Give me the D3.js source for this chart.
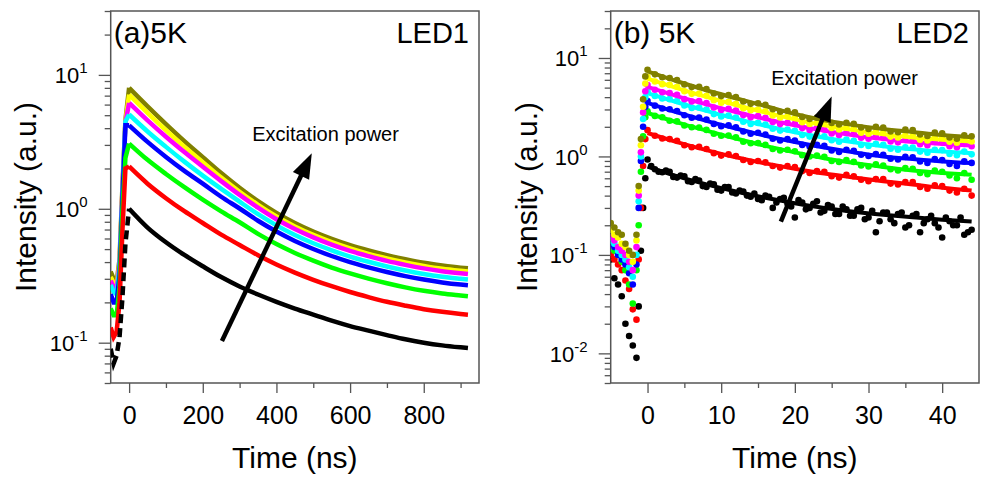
<!DOCTYPE html>
<html>
<head>
<meta charset="utf-8">
<script src="https://cdn.jsdelivr.net/npm/d3@7"></script>
<style>
body { margin: 0; background: #fff; }
svg text { font-family: "Liberation Sans", Arial, sans-serif; fill: #000; }
</style>
</head>
<body>
<svg id="chart" width="982" height="479"></svg>
<script>
// Series colours, lowest to highest excitation power
var seriesColors = ["#000000", "#ff0000", "#00ff00", "#0000ff", "#00ffff", "#ff00ff", "#ffff00", "#808000"];

// ---------- panel (a) LED1 ----------
var riseTimeA = [-50, -42, -34, -26, -18, -10];
var led1RiseBlack   = [0.09, 0.07, 0.08, 0.11, 0.22, 0.55];
var led1RiseRed     = [0.13, 0.11, 0.12, 0.20, 0.70, 2.0];
var led1RiseGreen   = [0.18, 0.16, 0.16, 0.26, 1.0, 2.4];
var led1RiseBlue    = [0.23, 0.20, 0.20, 0.32, 1.2, 4.2];
var led1RiseCyan    = [0.27, 0.24, 0.23, 0.36, 1.3, 4.5];
var led1RiseMagenta = [0.29, 0.26, 0.25, 0.38, 1.4, 4.4];
var led1RiseYellow  = [0.31, 0.28, 0.26, 0.40, 1.4, 4.5];
var led1RiseOlive   = [0.34, 0.30, 0.28, 0.42, 1.5, 4.6];

var timeA = [0, 50, 100, 150, 200, 250, 300, 350, 400, 450, 500, 550, 600, 650, 700, 750, 800, 850, 900, 920];
var led1Black   = [1.0, 0.724, 0.562, 0.452, 0.372, 0.309, 0.263, 0.229, 0.202, 0.180, 0.162, 0.146, 0.133, 0.123, 0.114, 0.106, 0.100, 0.0955, 0.0923, 0.0912];
var led1Red     = [2.07, 1.54, 1.20, 0.959, 0.783, 0.641, 0.537, 0.45, 0.384, 0.334, 0.295, 0.264, 0.239, 0.219, 0.202, 0.189, 0.178, 0.17, 0.164, 0.162];
var led1Green   = [3.07, 2.32, 1.82, 1.45, 1.17, 0.957, 0.793, 0.65, 0.545, 0.468, 0.41, 0.364, 0.329, 0.301, 0.278, 0.259, 0.244, 0.233, 0.225, 0.222];
var led1Blue    = [4.2, 3.16, 2.44, 1.92, 1.54, 1.23, 1.005, 0.814, 0.676, 0.575, 0.501, 0.444, 0.399, 0.365, 0.337, 0.314, 0.296, 0.282, 0.272, 0.269];
var led1Cyan    = [5.06, 3.78, 2.90, 2.25, 1.77, 1.41, 1.13, 0.911, 0.752, 0.637, 0.553, 0.49, 0.44, 0.402, 0.371, 0.346, 0.326, 0.311, 0.30, 0.296];
var led1Magenta = [6.17, 4.57, 3.45, 2.65, 2.06, 1.61, 1.27, 1.02, 0.836, 0.707, 0.612, 0.54, 0.485, 0.443, 0.408, 0.381, 0.359, 0.342, 0.33, 0.326];
var led1Yellow  = [7.12, 5.21, 3.86, 2.91, 2.23, 1.71, 1.34, 1.07, 0.875, 0.738, 0.638, 0.563, 0.506, 0.461, 0.426, 0.397, 0.374, 0.356, 0.344, 0.34];
var led1Olive   = [8.0, 5.82, 4.29, 3.20, 2.43, 1.85, 1.435, 1.14, 0.931, 0.783, 0.676, 0.596, 0.535, 0.488, 0.45, 0.42, 0.395, 0.377, 0.363, 0.359];

// ---------- panel (b) LED2 ----------
var riseTimeB = [-5, -4.5, -4, -3.5, -3, -2.5, -2, -1.5, -1.2, -0.9, -0.6, -0.3];
var led2RiseBlack   = [0.09, 0.058, 0.05, 0.038, 0.02, 0.015, 0.012, 0.009, 0.03, 0.11, 0.3, 0.6];
var led2RiseRed     = [0.10, 0.09, 0.08, 0.07, 0.055, 0.045, 0.028, 0.022, 0.09, 0.3, 0.8, 1.5];
var led2RiseGreen   = [0.14, 0.11, 0.10, 0.085, 0.07, 0.05, 0.032, 0.07, 0.2, 0.7, 1.6, 2.5];
var led2RiseBlue    = [0.13, 0.12, 0.10, 0.09, 0.08, 0.065, 0.05, 0.08, 0.3, 0.9, 2.0, 3.2];
var led2RiseCyan    = [0.14, 0.13, 0.11, 0.10, 0.09, 0.075, 0.06, 0.10, 0.35, 1.0, 2.4, 4.0];
var led2RiseMagenta = [0.15, 0.14, 0.12, 0.11, 0.10, 0.085, 0.07, 0.12, 0.4, 1.1, 2.8, 4.6];
var led2RiseYellow  = [0.18, 0.16, 0.15, 0.13, 0.12, 0.10, 0.085, 0.14, 0.45, 1.3, 3.2, 5.5];
var led2RiseOlive   = [0.21, 0.19, 0.17, 0.16, 0.13, 0.11, 0.10, 0.16, 0.5, 1.5, 3.8, 6.5];

// measured points after the pulse, one per ns
var dataTimeB = [0, 1, 2, 3, 4, 5, 6, 7, 8, 9, 10, 11, 12, 13, 14, 15, 16, 17, 18, 19, 20, 21, 22, 23, 24, 25, 26, 27, 28, 29, 30, 31, 32, 33, 34, 35, 36, 37, 38, 39, 40, 41, 42, 43, 44];
var led2BlackData   = [0.93, 0.74, 0.69, 0.70, 0.61, 0.63, 0.55, 0.57, 0.49, 0.52, 0.45, 0.49, 0.42, 0.44, 0.39, 0.37, 0.40, 0.30, 0.37, 0.33, 0.24, 0.34, 0.30, 0.35, 0.28, 0.31, 0.26, 0.29, 0.25, 0.30, 0.24, 0.17, 0.27, 0.23, 0.26, 0.19, 0.25, 0.17, 0.23, 0.21, 0.15, 0.22, 0.20, 0.16, 0.18];
var led2RedData     = [1.85, 1.62, 1.52, 1.50, 1.44, 1.30, 1.24, 1.25, 1.19, 1.08, 1.02, 1.05, 1.01, 0.92, 0.88, 0.90, 0.87, 0.80, 0.77, 0.80, 0.78, 0.71, 0.68, 0.71, 0.70, 0.63, 0.61, 0.65, 0.63, 0.58, 0.56, 0.59, 0.59, 0.53, 0.52, 0.55, 0.55, 0.49, 0.47, 0.51, 0.50, 0.45, 0.43, 0.47, 0.40];
var led2GreenData   = [2.88, 2.58, 2.50, 2.30, 2.27, 2.06, 1.98, 1.97, 1.86, 1.70, 1.62, 1.63, 1.56, 1.41, 1.36, 1.37, 1.31, 1.19, 1.15, 1.17, 1.13, 1.03, 1.0, 1.02, 0.99, 0.90, 0.88, 0.92, 0.88, 0.81, 0.79, 0.83, 0.81, 0.74, 0.72, 0.76, 0.75, 0.68, 0.66, 0.72, 0.70, 0.64, 0.60, 0.68, 0.58];
var led2BlueData    = [3.66, 3.28, 3.07, 3.02, 2.89, 2.62, 2.47, 2.49, 2.37, 2.14, 2.03, 2.07, 1.98, 1.79, 1.70, 1.74, 1.67, 1.51, 1.45, 1.50, 1.45, 1.31, 1.26, 1.31, 1.28, 1.15, 1.11, 1.17, 1.14, 1.04, 1.01, 1.06, 1.04, 0.95, 0.93, 0.99, 0.98, 0.89, 0.86, 0.94, 0.92, 0.84, 0.80, 0.89, 0.86];
var led2CyanData    = [4.58, 4.12, 3.88, 3.82, 3.66, 3.30, 3.11, 3.14, 2.99, 2.69, 2.55, 2.60, 2.49, 2.25, 2.14, 2.19, 2.11, 1.91, 1.83, 1.88, 1.82, 1.65, 1.59, 1.65, 1.60, 1.46, 1.41, 1.48, 1.44, 1.31, 1.28, 1.34, 1.31, 1.20, 1.17, 1.24, 1.23, 1.12, 1.09, 1.17, 1.16, 1.06, 1.03, 1.12, 1.05];
var led2MagentaData = [5.32, 4.75, 4.48, 4.41, 4.22, 3.82, 3.61, 3.66, 3.48, 3.14, 2.97, 3.05, 2.92, 2.63, 2.50, 2.57, 2.47, 2.24, 2.13, 2.20, 2.14, 1.94, 1.86, 1.94, 1.88, 1.71, 1.65, 1.74, 1.69, 1.55, 1.51, 1.58, 1.55, 1.42, 1.39, 1.47, 1.46, 1.33, 1.30, 1.40, 1.39, 1.27, 1.24, 1.34, 1.27];
var led2YellowData  = [6.4, 5.76, 5.42, 5.33, 5.1, 4.6, 4.32, 4.36, 4.14, 3.72, 3.52, 3.58, 3.43, 3.09, 2.94, 3.0, 2.88, 2.61, 2.49, 2.55, 2.46, 2.23, 2.14, 2.2, 2.14, 1.95, 1.88, 1.96, 1.91, 1.74, 1.70, 1.77, 1.74, 1.59, 1.56, 1.64, 1.62, 1.48, 1.45, 1.55, 1.54, 1.41, 1.38, 1.49, 1.42];
var led2OliveData   = [7.6, 6.82, 6.37, 6.26, 5.97, 5.39, 5.06, 5.1, 4.84, 4.35, 4.1, 4.2, 4.02, 3.61, 3.42, 3.47, 3.35, 3.01, 2.84, 2.91, 2.81, 2.52, 2.4, 2.48, 2.42, 2.19, 2.11, 2.2, 2.14, 1.97, 1.9, 2.0, 1.96, 1.79, 1.76, 1.87, 1.85, 1.67, 1.61, 1.75, 1.72, 1.56, 1.51, 1.64, 1.6];
// extra black points in between (the black trace is the noisiest)
var blackHalfTimeB = [0.5, 1.5, 2.5, 3.5, 4.5, 5.5, 6.5, 7.5, 8.5, 9.5, 10.5, 11.5, 12.5, 13.5, 14.5, 15.5, 16.5, 17.5, 18.5, 19.5, 20.5, 21.5, 22.5, 23.5, 24.5, 25.5, 26.5, 27.5, 28.5, 29.5, 30.5, 31.5, 32.5, 33.5, 34.5, 35.5, 36.5, 37.5, 38.5, 39.5, 40.5, 41.5, 42.5, 43.5];
var led2BlackHalfData = [0.80, 0.70, 0.72, 0.62, 0.64, 0.56, 0.59, 0.50, 0.53, 0.46, 0.49, 0.43, 0.45, 0.40, 0.42, 0.36, 0.39, 0.34, 0.38, 0.31, 0.36, 0.29, 0.33, 0.27, 0.32, 0.26, 0.31, 0.25, 0.29, 0.23, 0.28, 0.22, 0.27, 0.21, 0.27, 0.20, 0.26, 0.21, 0.25, 0.19, 0.24, 0.20, 0.24, 0.17];

// fitted decays
var fitTimeB = [0, 4, 8, 12, 16, 20, 24, 28, 32, 36, 40, 44];
var led2BlackFit   = [0.79, 0.63, 0.52, 0.44, 0.38, 0.335, 0.30, 0.275, 0.256, 0.241, 0.228, 0.218];
var led2RedFit     = [1.73, 1.40, 1.16, 0.98, 0.85, 0.75, 0.67, 0.61, 0.56, 0.52, 0.48, 0.45];
var led2GreenFit   = [2.76, 2.22, 1.83, 1.52, 1.28, 1.10, 0.96, 0.86, 0.78, 0.72, 0.68, 0.65];
var led2BlueFit    = [3.5, 2.8, 2.3, 1.92, 1.62, 1.40, 1.23, 1.10, 1.0, 0.94, 0.89, 0.857];
var led2CyanFit    = [4.4, 3.55, 2.9, 2.42, 2.05, 1.76, 1.55, 1.39, 1.27, 1.18, 1.12, 1.08];
var led2MagentaFit = [5.08, 4.1, 3.38, 2.83, 2.4, 2.07, 1.82, 1.64, 1.5, 1.4, 1.34, 1.29];
var led2YellowFit  = [6.17, 4.95, 4.02, 3.33, 2.8, 2.38, 2.07, 1.85, 1.68, 1.56, 1.48, 1.42];
var led2OliveFit   = [7.3, 5.8, 4.7, 3.9, 3.25, 2.7, 2.33, 2.08, 1.9, 1.77, 1.65, 1.57];

// arrows: [time, intensity] of tail and head
var arrowA = [[252, 0.103], [496, 2.6]];
var arrowB = [[18.1, 0.218], [25.0, 4.07]];
var noteA = [334, 3.2];
var noteB = [16.8, 5.3];

var xTicksA = [0, 200, 400, 600, 800];
var xMinorA = [100, 300, 500, 700, 900];
var xTicksB = [0, 10, 20, 30, 40];
var xMinorB = [5, 15, 25, 35];

function pairs(ts, vs) {
    return ts.map(function(t, i) { return {t: t, v: vs[i]}; });
}

var svg = d3.select("#chart");
var tickColor = "#555";

function logTicks(domain) {
    var major = [], minor = [];
    for (var e = -3; e <= 2; e++) {
        for (var m = 1; m <= 9; m++) {
            var v = m * Math.pow(10, e);
            if (v >= domain[0] * 0.999 && v <= domain[1] * 1.001) {
                if (m == 1) major.push(v); else minor.push(v);
            }
        }
    }
    return {major: major, minor: minor};
}

function drawFrame(p) {
    var g = svg.append("g");
    var x = d3.scaleLinear().domain(p.xDomain).range([p.left, p.right]);
    var y = d3.scaleLog().domain(p.yDomain).range([p.bottom, p.top]);

    // clip
    var clipId = "clip" + p.id;
    svg.append("clipPath").attr("id", clipId)
        .append("rect")
        .attr("x", p.left).attr("y", p.top)
        .attr("width", p.right - p.left).attr("height", p.bottom - p.top);

    // axes
    var yt = logTicks(p.yDomain);
    var yAxisMinor = g.append("g").attr("transform", "translate(" + p.left + ",0)")
        .call(d3.axisLeft(y).tickValues(yt.minor).tickSize(6).tickFormat(""));
    var yAxis = g.append("g").attr("transform", "translate(" + p.left + ",0)")
        .call(d3.axisLeft(y).tickValues(yt.major).tickSize(12).tickFormat(""));
    var xAxisMinor = g.append("g").attr("transform", "translate(0," + p.bottom + ")")
        .call(d3.axisBottom(x).tickValues(p.xMinor).tickSize(5).tickFormat(""));
    var xAxis = g.append("g").attr("transform", "translate(0," + p.bottom + ")")
        .call(d3.axisBottom(x).tickValues(p.xTicks).tickSize(10).tickPadding(13).tickFormat(d3.format("d")));

    [yAxisMinor, yAxis, xAxisMinor, xAxis].forEach(function(a) {
        a.select(".domain").remove();
        a.selectAll(".tick line").attr("stroke", tickColor).attr("stroke-width", 1.3);
    });
    xAxis.selectAll(".tick text").attr("font-size", 25).attr("fill", "#000");

    // y labels 10^n
    yAxis.selectAll(".tick").each(function(d) {
        var e = Math.round(Math.log10(d));
        var t = d3.select(this).append("text")
            .attr("x", -23).attr("y", 8)
            .attr("text-anchor", "end")
            .attr("font-size", 22);
        t.append("tspan").text("10");
        t.append("tspan").attr("dy", -10).attr("font-size", 15).text(String(e));
    });

    // frame
    g.append("rect")
        .attr("x", p.left).attr("y", p.top)
        .attr("width", p.right - p.left).attr("height", p.bottom - p.top)
        .attr("fill", "none").attr("stroke", tickColor).attr("stroke-width", 1.5);

    // titles
    svg.append("text")
        .attr("transform", "translate(" + p.yTitleX + "," + ((p.top + p.bottom) / 2) + ") rotate(-90)")
        .attr("text-anchor", "middle").attr("font-size", 30)
        .text("Intensity (a.u.)");
    svg.append("text")
        .attr("x", (p.left + p.right) / 2).attr("y", 468)
        .attr("text-anchor", "middle").attr("font-size", 30)
        .text("Time (ns)");
    svg.append("text")
        .attr("x", p.left + 3).attr("y", 43)
        .attr("font-size", 30).text(p.tag);
    svg.append("text")
        .attr("x", p.right - 10).attr("y", 43)
        .attr("text-anchor", "end").attr("font-size", 29).text(p.name);

    var plot = svg.append("g").attr("clip-path", "url(#" + clipId + ")");
    return {x: x, y: y, plot: plot};
}

function drawArrow(f, arrow, note) {
    var x0 = f.x(arrow[0][0]), y0 = f.y(arrow[0][1]);
    var x1 = f.x(arrow[1][0]), y1 = f.y(arrow[1][1]);
    var dx = x1 - x0, dy = y1 - y0, len = Math.sqrt(dx * dx + dy * dy);
    var ux = dx / len, uy = dy / len;
    var hl = 25, hw = 9;
    var bx = x1 - ux * hl, by = y1 - uy * hl;
    svg.append("line")
        .attr("x1", x0).attr("y1", y0).attr("x2", bx + ux * 2).attr("y2", by + uy * 2)
        .attr("stroke", "#000").attr("stroke-width", 4.5);
    svg.append("path")
        .attr("d", "M" + x1 + "," + y1 + "L" + (bx - uy * hw) + "," + (by + ux * hw) +
            "L" + (bx + uy * hw) + "," + (by - ux * hw) + "Z")
        .attr("fill", "#000");
    svg.append("text")
        .attr("x", f.x(note[0])).attr("y", f.y(note[1]))
        .attr("font-size", 20).text("Excitation power");
}

// ---------- draw panel (a) ----------
var fa = drawFrame({
    id: "a", left: 110.7, right: 479, top: 11, bottom: 383,
    xDomain: [-50, 950], yDomain: [0.05, 30],
    xTicks: xTicksA, xMinor: xMinorA,
    yTitleX: 36, tag: "(a)5K", name: "LED1"
});

var led1Rise = [led1RiseBlack, led1RiseRed, led1RiseGreen, led1RiseBlue, led1RiseCyan, led1RiseMagenta, led1RiseYellow, led1RiseOlive];
var led1Decay = [led1Black, led1Red, led1Green, led1Blue, led1Cyan, led1Magenta, led1Yellow, led1Olive];

var lineA = d3.line()
    .x(function(d) { return fa.x(d.t); })
    .y(function(d) { return fa.y(d.v); })
    .curve(d3.curveMonotoneX);
var riseLineA = d3.line()
    .x(function(d) { return fa.x(d.t); })
    .y(function(d) { return fa.y(d.v); });

for (var i = led1Decay.length - 1; i >= 0; i--) {
    var rise = pairs(riseTimeA, led1Rise[i]);
    rise.push({t: 0, v: led1Decay[i][0]});
    fa.plot.append("path")
        .attr("d", riseLineA(rise))
        .attr("fill", "none").attr("stroke", seriesColors[i]).attr("stroke-width", 4.5)
        .attr("stroke-dasharray", i == 0 ? "9,5" : null);
    fa.plot.append("path")
        .attr("d", lineA(pairs(timeA, led1Decay[i])))
        .attr("fill", "none").attr("stroke", seriesColors[i]).attr("stroke-width", 4.5)
        .attr("stroke-linejoin", "round");
}
drawArrow(fa, arrowA, noteA);

// ---------- draw panel (b) ----------
var fb = drawFrame({
    id: "b", left: 610.7, right: 979, top: 11, bottom: 383,
    xDomain: [-5, 45], yDomain: [0.005, 30],
    xTicks: xTicksB, xMinor: xMinorB,
    yTitleX: 537, tag: "(b) 5K", name: "LED2"
});

var led2Rise = [led2RiseBlack, led2RiseRed, led2RiseGreen, led2RiseBlue, led2RiseCyan, led2RiseMagenta, led2RiseYellow, led2RiseOlive];
var led2Data = [led2BlackData, led2RedData, led2GreenData, led2BlueData, led2CyanData, led2MagentaData, led2YellowData, led2OliveData];
var led2Fit = [led2BlackFit, led2RedFit, led2GreenFit, led2BlueFit, led2CyanFit, led2MagentaFit, led2YellowFit, led2OliveFit];

var lineB = d3.line()
    .x(function(d) { return fb.x(d.t); })
    .y(function(d) { return fb.y(d.v); })
    .curve(d3.curveMonotoneX);

for (var k = 0; k < led2Fit.length; k++) {
    var pts = pairs(riseTimeB, led2Rise[k]).concat(pairs(dataTimeB, led2Data[k]));
    if (k == 0) pts = pts.concat(pairs(blackHalfTimeB, led2BlackHalfData));
    fb.plot.selectAll(null)
        .data(pts).enter().append("circle")
        .attr("cx", function(d) { return fb.x(d.t); })
        .attr("cy", function(d) { return fb.y(d.v); })
        .attr("r", 3.3)
        .attr("fill", seriesColors[k]);
    fb.plot.append("path")
        .attr("d", lineB(pairs(fitTimeB, led2Fit[k])))
        .attr("fill", "none").attr("stroke", seriesColors[k]).attr("stroke-width", 4);
}
drawArrow(fb, arrowB, noteB);
</script>
</body>
</html>
